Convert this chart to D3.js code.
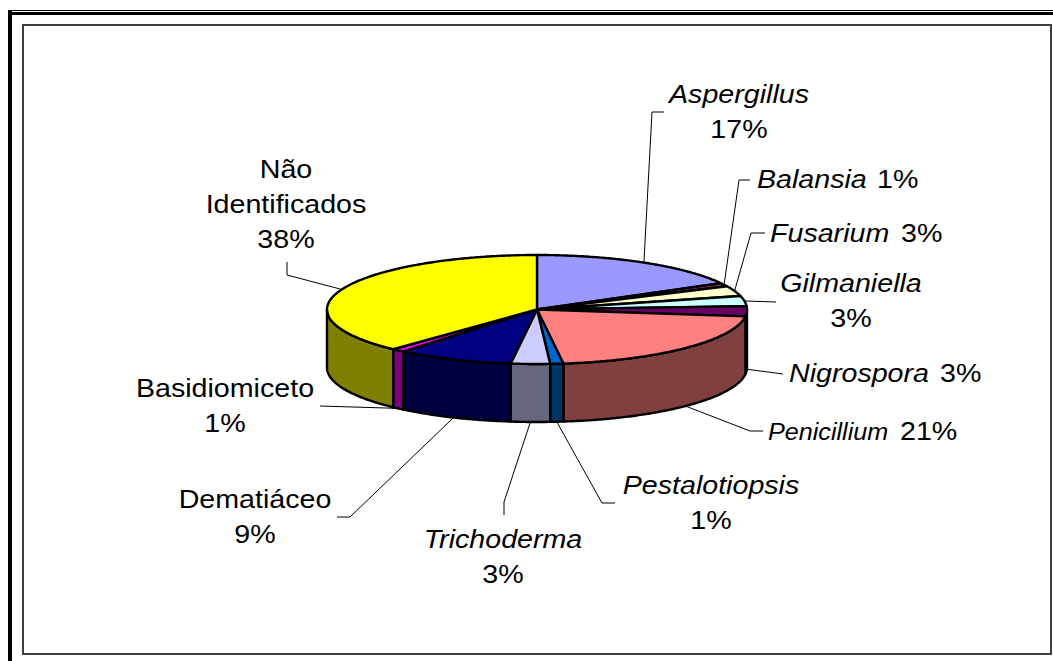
<!DOCTYPE html>
<html>
<head>
<meta charset="utf-8">
<script src="https://cdn.jsdelivr.net/npm/d3@7"></script>
<style>
  html, body { margin: 0; padding: 0; background: #fff; }
  svg { display: block; }
  text { font-family: "Liberation Sans", Arial, sans-serif; fill: #000; }
</style>
</head>
<body>
<svg id="chart" width="1053" height="661"></svg>
<script>
// Fungal genera isolated (share of isolates, %)
const categories = ["Aspergillus", "Balansia", "Fusarium", "Gilmaniella", "Nigrospora",
  "Penicillium", "Pestalotiopsis", "Trichoderma", "Dematiáceo", "Basidiomiceto", "Não Identificados"];
const shares = [17, 1, 3, 3, 3, 21, 1, 3, 9, 1, 38];
const italicName = [true, true, true, true, true, true, true, true, false, false, false];
const fillColors = ["#9999FF", "#993366", "#FFFFCC", "#CCFFFF", "#660066",
  "#FF8080", "#0066CC", "#CCCCFF", "#000080", "#FF00FF", "#FFFF00"];

// Label placement: stacked (name over percent) or in a row; elbow = leader bend points
const labelLayout = [
  { mode: "stack", x: 739, y: 103, elbow: [[652, 112], [664, 112]] },
  { mode: "row", x: 757, pctX: 877, y: 188, elbow: [[739, 180], [750, 180]] },
  { mode: "row", x: 770, pctX: 901, y: 242, elbow: [[751, 233], [765, 233]] },
  { mode: "stack", x: 851, y: 292, elbow: [[776, 302]] },
  { mode: "row", x: 789, pctX: 940, y: 382, elbow: [[783, 374]] },
  { mode: "row", x: 768, pctX: 900, y: 440, small: true, elbow: [[750, 431], [763, 431]] },
  { mode: "stack", x: 711, y: 494, elbow: [[602, 503], [615, 503]] },
  { mode: "stack", x: 503, y: 548, elbow: [[504, 502], [504, 515]] },
  { mode: "stack", x: 255, y: 508, elbow: [[350, 517], [337, 517]] },
  { mode: "stack", x: 225, y: 397, elbow: [[320, 406]] },
  { mode: "stack", x: 286, y: 178, wrap: true, elbow: [[287, 275], [287, 262]] }
];

const W = 1053, H = 661;
const svg = d3.select("#chart");

// Chart-area frame (double rule on top, heavy rule on left)
svg.append("rect").attr("x", 8).attr("y", 10).attr("width", W).attr("height", 1).attr("fill", "#000");
svg.append("rect").attr("x", 10).attr("y", 12).attr("width", W).attr("height", 3).attr("fill", "#000");
svg.append("rect").attr("x", 8).attr("y", 10).attr("width", 4).attr("height", H).attr("fill", "#000");
// Plot-area border
svg.append("rect").attr("x", 23).attr("y", 25).attr("width", 1028).attr("height", 629)
  .attr("fill", "#fff").attr("stroke", "#404040").attr("stroke-width", 2);

// 3D pie geometry
const cx = 537, cy = 309.5, rx = 210, ry = 54.5, depth = 58;
const pie = d3.pie().sort(null).value(d => d.v);
const arcs = pie(shares.map((v, i) => ({ v, i })));
// d3 angle (0 = back, clockwise) -> ellipse parametric angle
const toT = a => a - Math.PI / 2;
const px = t => cx + rx * Math.cos(t);
const py = t => cy + ry * Math.sin(t);
const line = d3.line().curve(d3.curveLinearClosed);

function sample(t0, t1, yOff) {
  const n = Math.max(2, Math.ceil(Math.abs(t1 - t0) / 0.01));
  const pts = [];
  for (let k = 0; k <= n; k++) {
    const t = t0 + (t1 - t0) * k / n;
    pts.push([px(t), py(t) + yOff]);
  }
  return pts;
}

const shade = c => { const h = d3.rgb(c); return d3.rgb(h.r * 0.5, h.g * 0.5, h.b * 0.5).formatHex(); };
const OUTLINE = 2.4;

// Side walls: only the front half (parametric 0..PI) is visible
const gSide = svg.append("g");
arcs.forEach(d => {
  const t0 = toT(d.startAngle), t1 = toT(d.endAngle);
  const segs = [];
  [[0, Math.PI], [2 * Math.PI, 3 * Math.PI]].forEach(([a, b]) => {
    const s = Math.max(t0, a), e = Math.min(t1, b);
    if (e > s) segs.push([s, e]);
  });
  segs.forEach(([s, e]) => {
    const top = sample(s, e, 0);
    const bottom = sample(e, s, depth);
    gSide.append("path")
      .attr("d", line(top.concat(bottom)))
      .attr("fill", shade(fillColors[d.data.i]))
      .attr("stroke", "#000").attr("stroke-width", OUTLINE).attr("stroke-linejoin", "round");
  });
});

// Top faces
const gTop = svg.append("g");
arcs.forEach(d => {
  const pts = [[cx, cy]].concat(sample(toT(d.startAngle), toT(d.endAngle), 0));
  gTop.append("path")
    .attr("d", line(pts))
    .attr("fill", fillColors[d.data.i])
    .attr("stroke", "#000").attr("stroke-width", OUTLINE).attr("stroke-linejoin", "round");
});

// Leader lines and labels
const FS = 26.5, FS_SMALL = 23.3, SX = 1.08, LH = 35;
const gLab = svg.append("g");
const leader = d3.line();

function addText(txt, x, y, anchor, italic, size) {
  gLab.append("text")
    .attr("transform", `translate(${x},${y}) scale(${SX},1)`)
    .attr("text-anchor", anchor)
    .attr("font-size", size)
    .attr("font-style", italic ? "italic" : "normal")
    .text(txt);
}

arcs.forEach(d => {
  const i = d.data.i, L = labelLayout[i];
  const t = toT((d.startAngle + d.endAngle) / 2);
  const front = Math.sin(t) > 0;
  const anchorPt = [px(t), py(t) + (front ? depth : 0)];
  gLab.append("path")
    .attr("d", leader([anchorPt].concat(L.elbow)))
    .attr("fill", "none").attr("stroke", "#000").attr("stroke-width", 1);

  const pct = shares[i] + "%";
  if (L.mode === "row") {
    addText(categories[i], L.x, L.y, "start", italicName[i], L.small ? FS_SMALL : FS);
    addText(pct, L.pctX, L.y, "start", false, FS);
  } else {
    const nameLines = L.wrap ? categories[i].split(" ") : [categories[i]];
    nameLines.forEach((s, k) => addText(s, L.x, L.y + k * LH, "middle", italicName[i], FS));
    addText(pct, L.x, L.y + nameLines.length * LH, "middle", false, FS);
  }
});
</script>
</body>
</html>
